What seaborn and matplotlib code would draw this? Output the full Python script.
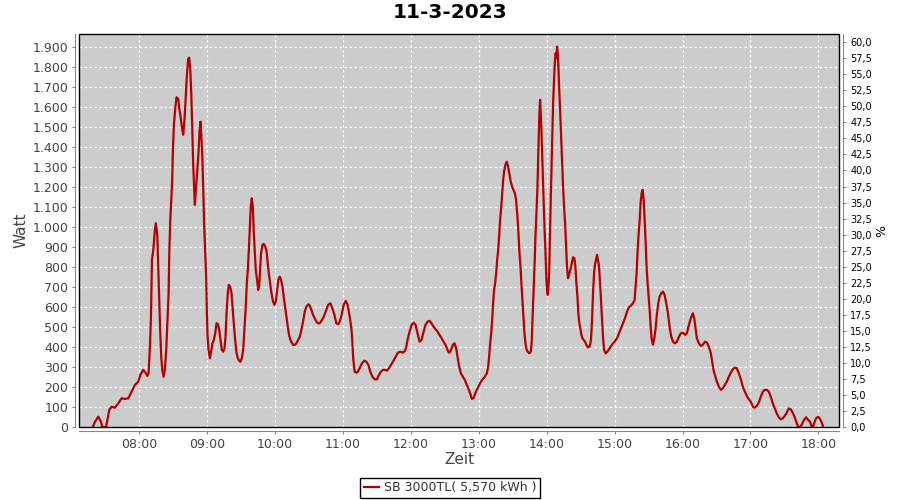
import matplotlib
matplotlib.use("Agg")
import matplotlib.pyplot as plt
import matplotlib.dates as mdates
from matplotlib.patches import Rectangle
from matplotlib.ticker import FuncFormatter, MultipleLocator
import pandas as pd
import seaborn as sns

titel = "11-3-2023"
legende = "SB 3000TL( 5,570 kWh )"

# Minuten seit Mitternacht / Leistung in Watt
morgen_min = [
    438.8, 440.9, 443.8, 445.9, 447.6, 450.6, 451.8, 453.5, 455.6, 458.5,
    461.5, 464.4, 467.4, 470.3, 473.2, 476.2, 479.1, 481.2, 483.5, 485.9,
    487.1, 488.2, 489.4, 490.3, 491.2, 492.4, 493.8, 494.7, 495.9, 496.8,
    497.6, 498.5, 499.4, 500.3, 501.5, 502.6, 503.8, 504.7, 505.9, 506.5,
    507.4, 508.2, 509.1, 509.7, 510.6, 511.8, 512.9, 514.4, 515.3, 516.5,
    517.6, 518.8, 519.7, 520.6, 521.5, 522.4, 523.2, 524.1, 525.0, 525.9,
    526.8, 527.6, 528.5, 529.1, 530.0, 531.2, 532.3, 533.2, 534.1, 534.7,
    535.6, 536.5, 537.4, 538.2, 539.1, 539.7, 540.3, 541.2, 542.4, 543.5,
    544.7, 545.9, 547.1, 548.2, 549.4, 550.6, 551.8, 552.9, 554.1, 555.3,
    556.2, 557.1, 558.2, 559.1, 560.3, 561.5, 562.6, 563.5, 564.7, 565.9,
    567.1, 568.2, 569.4, 570.6, 571.8, 572.9, 574.1, 575.0, 575.9, 576.8,
    577.6, 578.5, 579.4, 580.3, 581.2, 582.1, 582.9, 584.1, 585.0, 585.9,
    586.8, 587.6, 588.8, 590.0, 591.2, 592.3, 593.2, 594.4, 595.6, 596.8,
    598.2, 599.4, 600.6, 601.8, 602.9, 604.1, 605.3, 606.5, 607.6, 608.8,
    610.0, 611.2, 612.3, 613.5, 614.7, 615.9, 617.3, 618.8, 620.3, 621.8,
    623.2, 624.7, 626.2, 627.6, 629.4, 630.6, 632.1, 633.5, 635.0, 636.5,
    637.9,
]
morgen_watt = [
    0, 28, 53, 30, 0, 0, 37, 87, 103, 98,
    120, 145, 142, 145, 178, 212, 228, 265, 287, 270,
    257, 270, 403, 545, 837, 887, 987, 1020, 960, 787,
    637, 478, 353, 287, 253, 287, 387, 512, 670, 870,
    1037, 1128, 1237, 1387, 1512, 1595, 1650, 1642, 1595, 1553,
    1503, 1462, 1517, 1603, 1703, 1787, 1840, 1848, 1795, 1670,
    1503, 1320, 1187, 1112, 1187, 1278, 1370, 1478, 1528, 1470,
    1370, 1187, 1003, 887, 753, 578, 462, 387, 345, 378,
    420, 437, 470, 520, 517, 487, 437, 387, 378, 395,
    453, 570, 670, 712, 703, 670, 587, 520, 437, 370,
    345, 333, 328, 345, 387, 487, 603, 720, 787, 887,
    987, 1103, 1145, 1103, 970, 870, 787, 737, 687, 703,
    795, 870, 912, 917, 903, 887, 837, 770, 720, 670,
    628, 612, 628, 687, 737, 753, 737, 703, 653, 603,
    553, 503, 462, 437, 423, 412, 412, 420, 437, 453,
    487, 528, 578, 603, 615, 608, 587, 562, 545, 528,
    520,
]

mittag_min = [
    639.4, 642.4, 644.7, 646.8, 648.8, 650.6, 652.4, 654.1, 655.6, 657.1,
    658.8, 660.6, 662.4, 664.1, 665.9, 667.4, 668.2, 669.1, 670.3, 671.8,
    673.2, 674.7, 676.8, 678.8, 680.6, 682.4, 684.1, 685.9, 687.9, 690.0,
    691.8, 693.5, 695.3, 697.1, 698.8, 700.6, 702.4, 704.1, 706.5, 708.5,
    710.6, 712.9, 714.7, 715.9, 717.3, 718.8, 720.6, 722.4, 724.1, 725.9,
    727.6, 729.4, 731.2, 732.9, 734.7, 736.5, 738.2, 740.0, 741.8, 743.5,
    745.3, 747.1, 748.8, 750.6, 752.3, 753.5, 754.7, 755.9, 757.1, 758.5,
    760.0, 761.2, 762.3, 764.1, 765.9, 767.6, 769.4, 771.2, 772.3, 773.8,
    775.3, 776.8, 778.2, 780.0, 781.8, 783.5, 785.3, 787.1, 788.2, 789.1,
    790.0, 790.9, 791.8, 792.6, 793.5, 794.4, 795.3, 796.2, 797.1, 797.9,
    798.8, 799.7, 800.6, 801.5, 802.3, 803.5, 804.7, 805.9, 807.1, 808.2,
    809.4, 810.6, 811.8, 812.9, 814.1, 815.0, 815.9, 816.8, 817.6, 818.5,
    819.4, 820.3, 821.2, 822.1, 823.2, 824.7, 825.9, 826.8, 827.6, 828.5,
    829.4, 830.0, 830.9, 831.8, 832.3, 832.9, 833.5, 834.1, 834.7, 835.3,
    835.9, 836.5, 837.0, 837.6, 838.2, 838.8, 839.7, 840.3, 840.9, 841.5,
    842.1, 842.6, 843.2, 843.8, 844.4, 845.0, 845.6, 846.2, 846.8, 847.3,
    847.9, 848.5, 849.1, 849.7, 850.3, 850.9, 851.8, 852.6, 853.5, 854.4,
    855.3, 856.2, 857.0, 857.9, 858.8,
]
mittag_watt = [
    520, 545, 578, 612, 620, 595, 562, 520, 515, 528,
    562, 612, 632, 612, 553, 495, 428, 337, 278, 273,
    278, 295, 320, 333, 328, 312, 278, 253, 240, 240,
    262, 278, 287, 287, 283, 295, 312, 328, 353, 373,
    378, 373, 382, 403, 445, 478, 512, 523, 512, 470,
    428, 437, 478, 512, 528, 532, 520, 503, 490, 478,
    462, 445, 428, 412, 387, 373, 378, 395, 413, 420,
    395, 353, 312, 270, 253, 237, 212, 187, 170, 142,
    145, 170, 187, 207, 228, 240, 253, 270, 303, 353,
    420, 470, 537, 620, 687, 720, 770, 837, 887, 953,
    1037, 1095, 1170, 1237, 1278, 1312, 1328, 1303, 1262, 1228,
    1203, 1187, 1170, 1137, 1053, 970, 870, 803, 720, 637,
    553, 470, 420, 390, 378, 370, 378, 437, 570, 703,
    837, 953, 1070, 1203, 1320, 1453, 1570, 1637, 1570, 1487,
    1370, 1270, 1170, 1070, 970, 887, 737, 687, 662, 703,
    770, 903, 1053, 1203, 1345, 1495, 1620, 1703, 1787, 1837,
    1870, 1845, 1903, 1870, 1803, 1703, 1587, 1470, 1337, 1203,
    1103, 1020, 920, 803, 745,
]

nachmittag_min = [
    859.7, 860.9, 862.1, 863.2, 864.4, 865.3, 866.2, 867.1, 867.9, 868.8,
    869.7, 870.6, 871.5, 872.6, 873.8, 875.0, 876.2, 877.9, 879.1, 880.0,
    880.9, 881.8, 882.6, 883.5, 884.4, 885.3, 886.2, 887.1, 887.9, 888.8,
    889.7, 890.6, 892.1, 893.5, 895.6, 897.6, 900.0, 902.1, 903.8, 905.6,
    907.4, 909.1, 910.9, 912.6, 914.4, 916.2, 917.6, 918.5, 919.4, 920.3,
    921.2, 922.1, 922.9, 923.8, 924.7, 925.6, 926.5, 927.4, 928.2, 929.1,
    930.0, 930.9, 931.8, 932.6, 933.8, 935.0, 936.2, 937.4, 938.5, 939.7,
    941.2, 942.6, 944.1, 945.6, 947.1, 948.5, 950.0, 951.5, 953.2, 955.0,
    956.8, 958.5, 960.3, 962.1, 963.8, 965.6, 967.3, 969.1, 970.3, 971.5,
    972.6, 974.4, 976.2, 977.9, 979.7, 981.5, 983.2, 985.0, 986.2, 987.3,
    988.5, 990.3, 992.1, 993.8, 995.6, 997.3, 999.1, 1000.9, 1002.6, 1004.4,
    1006.2, 1007.9, 1009.7, 1011.5, 1013.2, 1015.0, 1016.8, 1018.5, 1020.3, 1022.1,
    1023.8, 1025.6, 1027.3, 1029.1, 1030.9, 1032.6, 1034.4, 1036.2, 1037.9, 1039.7,
    1041.5, 1043.2, 1045.0, 1046.8, 1048.5, 1050.3, 1052.1, 1053.8, 1055.6, 1057.3,
    1059.1, 1060.9, 1062.1, 1063.8, 1065.6, 1067.3, 1069.1, 1070.9, 1072.6, 1073.8,
    1075.0, 1076.2, 1077.9, 1079.7, 1081.5, 1083.2, 1084.4,
]
nachmittag_watt = [
    762, 787, 820, 850, 845, 803, 720, 653, 570, 520,
    495, 462, 445, 437, 428, 412, 400, 403, 437, 537,
    670, 770, 812, 837, 862, 837, 803, 720, 637, 537,
    453, 387, 370, 378, 395, 413, 428, 445, 470, 495,
    520, 545, 578, 600, 608, 620, 637, 703, 770, 887,
    970, 1037, 1120, 1170, 1187, 1137, 1037, 920, 803, 720,
    653, 587, 503, 445, 413, 445, 495, 570, 620, 653,
    670, 678, 662, 620, 570, 503, 453, 428, 420, 428,
    453, 470, 473, 462, 470, 512, 545, 570, 545, 495,
    445, 420, 407, 412, 428, 423, 403, 370, 328, 287,
    262, 228, 203, 187, 195, 212, 228, 253, 273, 290,
    298, 295, 270, 240, 203, 178, 157, 140, 128, 103,
    98, 107, 123, 153, 178, 187, 187, 178, 153, 120,
    95, 70, 50, 40, 45, 57, 73, 95, 90, 73,
    50, 20, 3, 0, 17, 37, 50, 37, 28, 7,
    0, 20, 45, 53, 42, 20, 0,
]

minuten = morgen_min + mittag_min + nachmittag_min
watt = morgen_watt + mittag_watt + nachmittag_watt

tag = pd.Timestamp("2023-03-11")
df = pd.DataFrame({"Zeit": tag + pd.to_timedelta(minuten, unit="min"), "Watt": watt})

grau_achse = "#888888"
grau_text = "#444444"

fig = plt.figure(figsize=(9, 5), dpi=100)
ax = fig.add_axes([0.0881, 0.1454, 0.8445, 0.7866])
ax.set_facecolor("#cccccc")

sns.lineplot(data=df, x="Zeit", y="Watt", ax=ax, color="#b40000", linewidth=1.6,
             label=legende, estimator=None, sort=False)
ax.get_legend().remove()

ax.set_xlim(tag + pd.Timedelta(minutes=427), tag + pd.Timedelta(minutes=1098.5))
ax.set_ylim(0, 1966)
ax.yaxis.set_major_locator(MultipleLocator(100))
ax.yaxis.set_major_formatter(FuncFormatter(lambda v, p: f"{int(v):,}".replace(",", ".")))
ax.xaxis.set_major_locator(mdates.HourLocator())
ax.xaxis.set_major_formatter(mdates.DateFormatter("%H:%M"))
ax.grid(True, color="white", linestyle=(0, (2, 2)), linewidth=0.9)

for s in ["top", "right"]:
    ax.spines[s].set_visible(False)
for s in ["left", "bottom"]:
    ax.spines[s].set_position(("outward", 2.9))
    ax.spines[s].set_color(grau_achse)
ax.tick_params(axis="both", length=2.5, width=0.8, color=grau_achse,
               labelcolor=grau_text, labelsize=9, pad=2.5)

ax.set_ylabel("Watt", fontsize=11, color=grau_text, va="center")
ax.yaxis.set_label_coords(-0.077, 0.5)
ax.set_xlabel("Zeit", fontsize=11, color=grau_text, va="center")
ax.xaxis.set_label_coords(0.5, -0.083)

# rechte Achse in Prozent
ax2 = ax.twinx()
ax2.set_ylim(0, 61.26)
ax2.yaxis.set_major_locator(MultipleLocator(2.5))
ax2.yaxis.set_major_formatter(FuncFormatter(lambda v, p: f"{v:.1f}".replace(".", ",")))
for s in ["top", "left", "bottom"]:
    ax2.spines[s].set_visible(False)
ax2.spines["right"].set_position(("outward", 2.9))
ax2.spines["right"].set_color(grau_achse)
ax2.tick_params(axis="y", length=2.5, width=0.8, color=grau_achse,
                labelcolor="black", labelsize=7, pad=2.5)
ax2.set_ylabel("%", fontsize=9, color="black", va="center", rotation=90)
ax2.yaxis.set_label_coords(1.056, 0.5)

# schwarzer Rahmen um die Zeichenfläche
ax2.add_patch(Rectangle((0, 0), 1, 1, transform=ax.transAxes, fill=False,
                        edgecolor="black", linewidth=1.0, clip_on=False, zorder=5))

fig.suptitle(titel, fontsize=14.5, fontweight="bold", y=0.974, va="center")

handles, labels = ax.get_legend_handles_labels()
leg = fig.legend(handles, labels, loc="lower center", bbox_to_anchor=(0.5, 0.004),
                 fontsize=9, frameon=True, fancybox=False, edgecolor="black",
                 framealpha=1, handlelength=1.2, handletextpad=0.4, borderpad=0.3,
                 borderaxespad=0)
leg.get_frame().set_linewidth(1.0)
for t in leg.get_texts():
    t.set_color("#333333")

fig.savefig("out.png", dpi=100)
